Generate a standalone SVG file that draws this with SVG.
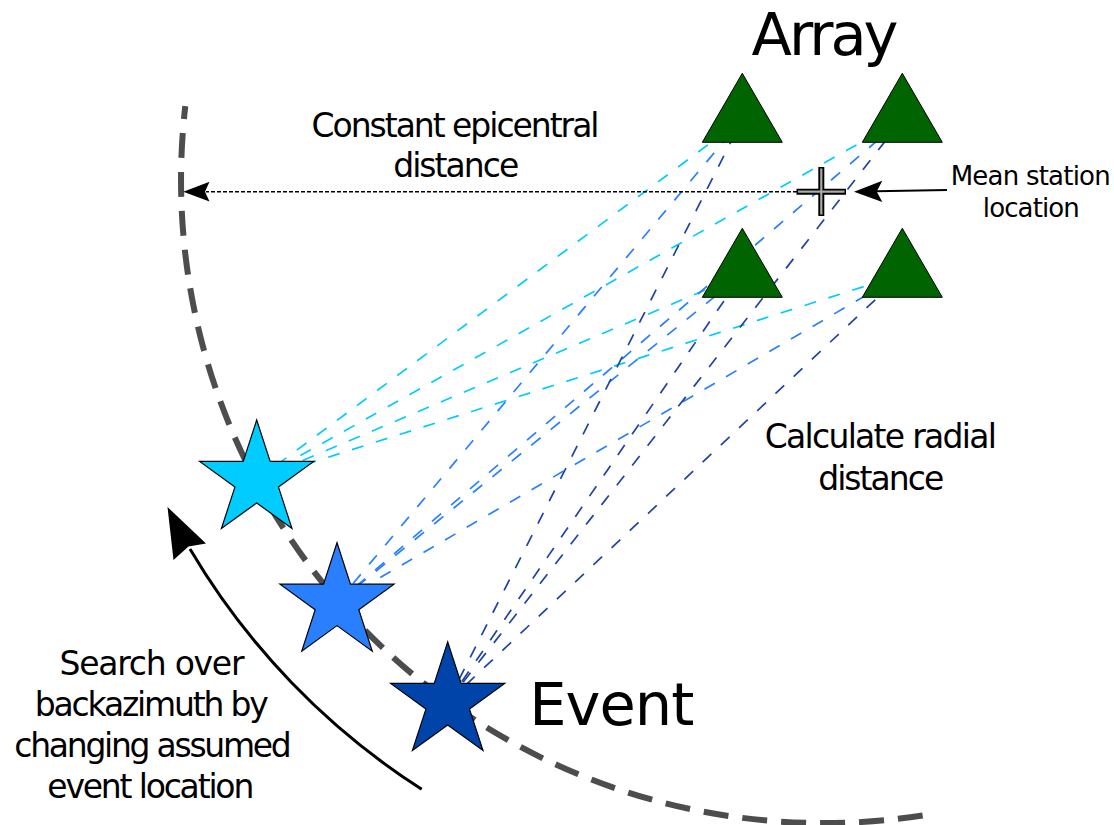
<svg xmlns="http://www.w3.org/2000/svg" width="1114" height="825" viewBox="0 0 1114 825">
<defs>
<style>
.txt{font-family:"DejaVu Sans","Verdana",sans-serif;fill:#000}
.t33{font-size:33px}
.t26{font-size:26px}
.big{font-size:59px}
.ray{fill:none;stroke-width:1.7;stroke-dasharray:12 13}
.c1{stroke:#00ccff}
.c2{stroke:#2a7fff}
.c3{stroke:#1f42a6}
.sta{fill:#006400;stroke:#000;stroke-width:1}
.star{stroke:#000;stroke-width:1.2;stroke-linejoin:miter}
</style>
<path id="starShape" d="M0,-60 L13.47,-18.54 L57.07,-18.54 L21.8,7.08 L35.27,48.54 L0,22.92 L-35.27,48.54 L-21.8,7.08 L-57.07,-18.54 L-13.47,-18.54 Z"/>
</defs>
<rect width="1114" height="825" fill="#fff"/>

<g id="arc-constant-distance">
<path d="M185.3,106.1 A643,643 0 0 0 925.7,815" fill="none" stroke="#4d4d4d" stroke-width="6" stroke-dasharray="25 14" stroke-dashoffset="12"/>
</g>

<g id="connectors">
<g id="rays-star1">
<line class="ray c1" x1="256.7" y1="480" x2="742.3" y2="119.3"/>
<line class="ray c1" x1="256.7" y1="480" x2="902.3" y2="119.3"/>
<line class="ray c1" x1="256.7" y1="480" x2="742.3" y2="274.3"/>
<line class="ray c1" x1="256.7" y1="480" x2="902.3" y2="274.3"/>
</g>
<g id="rays-star2">
<line class="ray c2" x1="337" y1="602.7" x2="742.3" y2="119.3"/>
<line class="ray c2" x1="337" y1="602.7" x2="902.3" y2="119.3"/>
<line class="ray c2" x1="337" y1="602.7" x2="742.3" y2="274.3"/>
<line class="ray c2" x1="337" y1="602.7" x2="902.3" y2="274.3"/>
</g>
<g id="rays-star3">
<line class="ray c3" x1="447.7" y1="702" x2="742.3" y2="119.3"/>
<line class="ray c3" x1="447.7" y1="702" x2="902.3" y2="119.3"/>
<line class="ray c3" x1="447.7" y1="702" x2="742.3" y2="274.3"/>
<line class="ray c3" x1="447.7" y1="702" x2="902.3" y2="274.3"/>
</g>
<g id="epicentral-arrow">
<line x1="797" y1="191.7" x2="206" y2="191.7" stroke="#000" stroke-width="1.5" stroke-dasharray="4 2"/>
<path d="M183.3,191.7 L209.5,181.8 L205,191.7 L209.5,201.6 Z" fill="#000"/>
</g>
</g>

<g id="station-tl"><polygon class="sta" points="742.3,73.3 702.3,142.3 782.3,142.3"/></g>
<g id="station-tr"><polygon class="sta" points="902.3,73.3 862.3,142.3 942.3,142.3"/></g>
<g id="station-bl"><polygon class="sta" points="742.3,228.3 702.3,297.3 782.3,297.3"/></g>
<g id="station-br"><polygon class="sta" points="902.3,228.3 862.3,297.3 942.3,297.3"/></g>

<g id="mean-station">
<line x1="796.5" y1="191.7" x2="846" y2="191.7" stroke="#000" stroke-width="6"/>
<line x1="821.3" y1="167" x2="821.3" y2="216" stroke="#000" stroke-width="6"/>
<line x1="798" y1="191.7" x2="844.5" y2="191.7" stroke="#aaa" stroke-width="2.2"/>
<line x1="821.3" y1="168.5" x2="821.3" y2="214.5" stroke="#aaa" stroke-width="2.2"/>
</g>

<g id="mean-station-arrow">
<line x1="947" y1="190" x2="876" y2="191.2" stroke="#000" stroke-width="2"/>
<path d="M854,191.7 L882.3,180.7 L876.7,191.4 L882.3,201.9 Z" fill="#000"/>
</g>

<g id="star1"><use href="#starShape" class="star" fill="#00ccff" transform="translate(256.7,480)"/></g>
<g id="star2"><use href="#starShape" class="star" fill="#2a7fff" transform="translate(337,602.7)"/></g>
<g id="star3"><use href="#starShape" class="star" fill="#0044aa" transform="translate(447.7,702)"/></g>

<g id="search-arrow">
<path d="M421.7,789.3 A719,719 0 0 1 190,549" fill="none" stroke="#000" stroke-width="3"/>
<path d="M167.5,507 L206,543.5 L188.5,546.5 L173.5,560 Z" fill="#000"/>
</g>

<g id="labels">
<text class="txt big" x="751.5" y="55" textLength="147" lengthAdjust="spacing">Array</text>
<text class="txt big" x="529.3" y="725" textLength="165" lengthAdjust="spacing">Event</text>
<text class="txt t33" x="311.5" y="137" textLength="288" lengthAdjust="spacing">Constant epicentral</text>
<text class="txt t33" x="393.2" y="177" textLength="126" lengthAdjust="spacing">distance</text>
<text class="txt t26" x="950.7" y="184.5" textLength="160" lengthAdjust="spacing">Mean station</text>
<text class="txt t26" x="982.8" y="216.5" textLength="97" lengthAdjust="spacing">location</text>
<text class="txt t33" x="764.8" y="448.3" textLength="232" lengthAdjust="spacing">Calculate radial</text>
<text class="txt t33" x="818.2" y="490" textLength="126" lengthAdjust="spacing">distance</text>
<text class="txt t33" x="59.5" y="675" textLength="185" lengthAdjust="spacing">Search over</text>
<text class="txt t33" x="34.8" y="716" textLength="234" lengthAdjust="spacing">backazimuth by</text>
<text class="txt t33" x="14.3" y="757" textLength="277.5" lengthAdjust="spacing">changing assumed</text>
<text class="txt t33" x="47.3" y="798" textLength="207" lengthAdjust="spacing">event location</text>
</g>
</svg>
